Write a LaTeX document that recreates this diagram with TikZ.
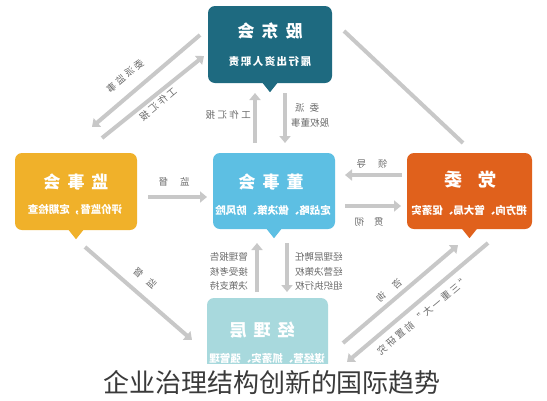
\documentclass[tikz,border=0pt]{standalone}
\usepackage{fontspec}
\setmainfont{Noto Sans CJK SC}
\newfontfamily\cjkls{Noto Sans CJK SC}[LetterSpace=14]
\newfontfamily\labf{Noto Sans CJK SC}[LetterSpace=25]
\usetikzlibrary{arrows.meta}
\definecolor{cgd}{HTML}{1E6A80}
\definecolor{cjs}{HTML}{F0B12A}
\definecolor{cds}{HTML}{5DBFE3}
\definecolor{cdw}{HTML}{E0611C}
\definecolor{cjl}{HTML}{A8D9DD}
\definecolor{carr}{HTML}{C8C8C8}
\definecolor{ctxt}{HTML}{6A6A6A}
\definecolor{ccap}{HTML}{3A3A3A}
\tikzset{
  box/.style={rounded corners=7pt, inner sep=0pt, draw=none},
  ttl/.style={text=white, inner sep=0pt, font=\fontsize{17}{17}\selectfont\bfseries},
  sub/.style={text=white, inner sep=0pt, font=\fontsize{10.5}{10.5}\selectfont\bfseries},
  lab/.style={text=ctxt, inner sep=0pt, font=\fontsize{9.5}{9.5}\selectfont},
  slab/.style={text=ctxt, inner sep=0pt, font=\fontsize{9.5}{9.5}\selectfont\labf},
  arr/.style={draw=carr, line width=4pt, -{Triangle[width=11pt,length=7pt]}},
  plainln/.style={draw=carr, line width=4pt},
}
\begin{document}
\begin{tikzpicture}[x=1pt,y=-1pt]
\useasboundingbox (0,0) rectangle (547,400);
\fill[white] (0,0) rectangle (547,400);

% ---------- boxes ----------
\node[box, fill=cgd, minimum width=124pt, minimum height=77pt] (gd) at (270,44.5) {};
\fill[cgd] (gd.south) ++(-8,-1) -- ++(8,10) -- ++(8,-10) -- cycle;
\node[ttl] (gdT) at (270,31) {\reflectbox{股\hspace{7pt}东\hspace{7pt}会}};
\node[sub] (gdS) at (270,62) {\cjkls\reflectbox{履行出资人职责}};

\node[box, fill=cjs, minimum width=122pt, minimum height=77pt] (js) at (76,191.5) {};
\fill[cjs] (js.south) ++(-8,-1) -- ++(8,10) -- ++(8,-10) -- cycle;
\node[ttl] (jsT) at (76,182) {\reflectbox{监\hspace{7pt}事\hspace{7pt}会}};
\node[sub] (jsS) at (75,210) {\reflectbox{评价监督，定期检查}};

\node[box, fill=cds, minimum width=122pt, minimum height=76pt] (ds) at (274,191) {};
\fill[cds] (ds.south) ++(-8,-1) -- ++(8,10) -- ++(8,-10) -- cycle;
\node[ttl] (dsT) at (271,182) {\reflectbox{董\hspace{7pt}事\hspace{7pt}会}};
\node[sub] (dsS) at (273,210) {\reflectbox{定战略、做决策、防风险}};

\node[box, fill=cdw, minimum width=125pt, minimum height=76pt] (dw) at (469.5,191) {};
\fill[cdw] (dw.south) ++(-8,-1) -- ++(8,10) -- ++(8,-10) -- cycle;
\node[ttl, font=\fontsize{18}{18}\selectfont\bfseries] (dwT) at (470,180) {\reflectbox{党\hspace{16pt}委}};
\node[sub] (dwS) at (469,210) {\reflectbox{把方向、管大局、促落实}};

\node[box, fill=cjl, minimum width=121pt, minimum height=82pt] (jl) at (267.5,339) {};
\node[ttl] (jlT) at (262,330) {\reflectbox{经\hspace{7pt}理\hspace{7pt}层}};
\node[sub] (jlS) at (267,358) {\reflectbox{谋经营、抓落实、强管理}};

% ---------- connector end points ----------
\coordinate (a1s) at (200,35);  \coordinate (a1e) at (92,127);
\coordinate (a2s) at (102,138); \coordinate (a2e) at (204,56);
\coordinate (b1s) at (344,31);  \coordinate (b1e) at (463,143);
\coordinate (c1s) at (255,143); \coordinate (c1e) at (255,93);
\coordinate (c2s) at (285,93);  \coordinate (c2e) at (285,143);
\coordinate (d1s) at (148,197); \coordinate (d1e) at (207,197);
\coordinate (e1s) at (402,175); \coordinate (e1e) at (345,175);
\coordinate (e2s) at (345,206); \coordinate (e2e) at (401,206);
\coordinate (f1s) at (257,292); \coordinate (f1e) at (257,243);
\coordinate (f2s) at (287,243); \coordinate (f2e) at (287,292);
\coordinate (g1s) at (85,247);  \coordinate (g1e) at (192,340);
\coordinate (h1s) at (343,343); \coordinate (h1e) at (458,245);
\coordinate (h2s) at (488,243); \coordinate (h2e) at (347,362);

% ---------- connectors ----------
\draw[arr] (a1s) -- (a1e);
\draw[arr] (a2s) -- (a2e);
\draw[plainln] (b1s) -- (b1e);
\draw[arr] (c1s) -- (c1e);
\draw[arr] (c2s) -- (c2e);
\draw[arr] (d1s) -- (d1e);
\draw[arr] (e1s) -- (e1e);
\draw[arr] (e2s) -- (e2e);
\draw[arr] (f1s) -- (f1e);
\draw[arr] (f2s) -- (f2e);
\draw[arr] (g1s) -- (g1e);
\draw[arr] (h1s) -- (h1e);
\draw[arr] (h2s) -- (h2e);

% ---------- labels ----------
\node[slab, rotate=40] (la1) at (125,76) {\reflectbox{委派监事}};
\node[slab, rotate=40] (la2) at (158,104) {\reflectbox{工作汇报}};
\node[slab, anchor=east] (lc1) at (251,115) {\reflectbox{工作汇报}};
\node[lab] (lc2) at (307,108) {\reflectbox{委\hspace{5pt}派}};
\node[lab, anchor=west] (lc3) at (291,123) {\reflectbox{股权董事}};
\node[lab] (ld1) at (174,182) {\reflectbox{监\hspace{12pt}督}};
\node[lab] (le1) at (372,164) {\reflectbox{领\hspace{12pt}导}};
\node[lab] (le2) at (369,222) {\reflectbox{贯\hspace{10pt}彻}};
\node[lab, anchor=east] (lf1) at (248,257) {\reflectbox{管理报告}};
\node[lab, anchor=east] (lf2) at (248,271.5) {\reflectbox{接受考核}};
\node[lab, anchor=east] (lf3) at (248,286) {\reflectbox{决策支持}};
\node[lab, anchor=west] (lf4) at (295,257) {\reflectbox{经理层聘任}};
\node[lab, anchor=west] (lf5) at (295,271.5) {\reflectbox{经营决策权}};
\node[lab, anchor=west] (lf6) at (295,286) {\reflectbox{组织执行权}};
\node[lab, rotate=-41] (lg1) at (145,278) {\reflectbox{监\hspace{8pt}督}};
\node[lab, rotate=40] (lh1) at (389,290) {\reflectbox{咨\hspace{11pt}询}};
\node[slab, rotate=40] (lh2) at (423,315) {\reflectbox{“三重一大”前置研究}};

% ---------- caption band ----------
\fill[white] (0,364) rectangle (547,400);
\node[text=ccap, inner sep=0pt, font=\fontsize{26}{26}\selectfont] (cap) at (272,383) {企业治理结构创新的国际趋势};
\end{tikzpicture}
\end{document}
